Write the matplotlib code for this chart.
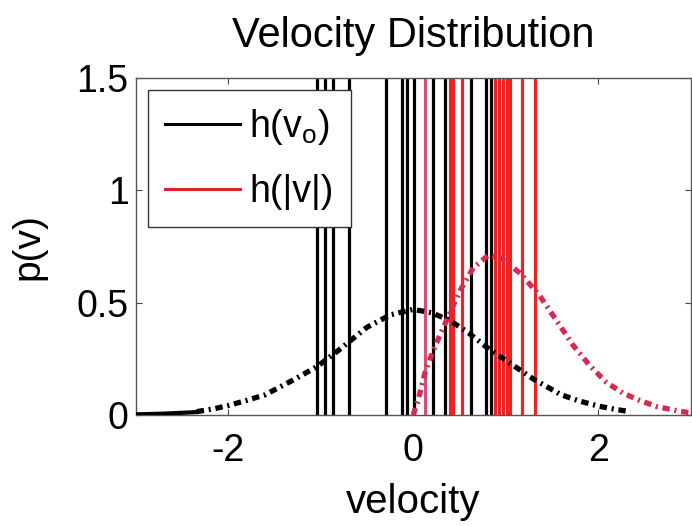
import matplotlib
matplotlib.use("Agg")
import matplotlib.pyplot as plt

plt.rcParams['font.family'] = ['Liberation Sans', 'DejaVu Sans']
plt.rcParams['mathtext.fontset'] = 'custom'
plt.rcParams['mathtext.rm'] = 'Liberation Sans'

# ---- data ----
black_lines = [-1.04, -0.95, -0.87, -0.69, -0.29, -0.12, -0.07, 0.01, 0.21, 0.35, 0.63, 0.79, 0.84]
red_lines = [0.40, 0.43, 0.53, 0.89, 0.93, 0.97, 1.02, 1.05, 1.18, 1.32]
pink_lines = [0.13]

black_v = [-2.34, -2.15, -2.0, -1.8, -1.6, -1.3, -1.04, -0.8, -0.5, -0.25, 0.0, 0.2, 0.4, 0.6, 0.8, 1.05, 1.3, 1.6, 1.8, 2.0, 2.2, 2.35]
black_p = [0.015, 0.028, 0.042, 0.065, 0.09, 0.155, 0.215, 0.29, 0.39, 0.445, 0.47, 0.455, 0.42, 0.365, 0.30, 0.23, 0.16, 0.09, 0.062, 0.04, 0.024, 0.015]
black_tail_v = [-3.0, -2.7, -2.34]
black_tail_p = [0.003, 0.006, 0.013]

red_v = [0.0, 0.05, 0.13, 0.22, 0.36, 0.51, 0.65, 0.81, 0.94, 1.16, 1.37, 1.55, 1.73, 1.91, 2.09, 2.27, 2.45, 2.63, 2.89, 3.0]
red_p = [0.0, 0.06, 0.19, 0.29, 0.42, 0.555, 0.655, 0.71, 0.70, 0.63, 0.53, 0.42, 0.31, 0.22, 0.145, 0.097, 0.065, 0.038, 0.016, 0.01]

xticks = [-2, 0, 2]
yticks = [0, 0.5, 1, 1.5]
ytick_labels = ['0', '0.5', '1', '1.5']

FS = 27

fig = plt.figure(figsize=(6.92, 5.26), dpi=100)
ax = fig.add_axes([0.196, 0.211, 0.802, 0.641])

for v in black_lines:
    ax.axvline(v, color='black', lw=2.3, zorder=2)
for v in pink_lines:
    ax.axvline(v, color='#d8507a', lw=2.3, zorder=2)
for v in red_lines:
    ax.axvline(v, color='#ee2222', lw=2.3, zorder=2)

ds = (0, (1.4, 0.9, 0.4, 0.9))
ax.plot(black_tail_v, black_tail_p, color='black', lw=3, zorder=3)
ax.plot(black_v, black_p, color='black', lw=3.8, ls=ds, zorder=3)
ax.plot(red_v, red_p, color='#d62a50', lw=3.8, ls=ds, zorder=3)

# legend proxies
h1, = ax.plot([], [], color='black', lw=2.2)
h2, = ax.plot([], [], color='#e0202a', lw=2.2)
leg = ax.legend([h1, h2], [r'h(v$_{\mathregular{o}}$)', 'h(|v|)'],
                loc='upper left', bbox_to_anchor=(0.0225, 0.964), borderaxespad=0,
                fontsize=FS, handlelength=2.0, handletextpad=0.25, labelspacing=0.72,
                fancybox=False, framealpha=1, edgecolor='#333333', borderpad=0.45)
leg.get_frame().set_linewidth(1.0)
leg.set_zorder(10)

ax.set_xlim(-3, 3)
ax.set_ylim(0, 1.5)
ax.set_xticks(xticks)
ax.set_xticklabels([str(t) for t in xticks])
ax.set_yticks(yticks)
ax.set_yticklabels(ytick_labels)
ax.tick_params(direction='in', length=4, width=0.8, labelsize=FS, top=True, right=True, color='#444444')
ax.tick_params(axis='x', pad=13)
ax.tick_params(axis='y', pad=5)
for s in ax.spines.values():
    s.set_color('#555555')
    s.set_linewidth(1.0)

ax.set_xlabel('velocity', fontsize=29, labelpad=10)
ax.set_ylabel('p(v)', fontsize=28, labelpad=22)
ax.set_title('Velocity Distribution', fontsize=30, pad=22)

fig.savefig('out.png', dpi=100)
